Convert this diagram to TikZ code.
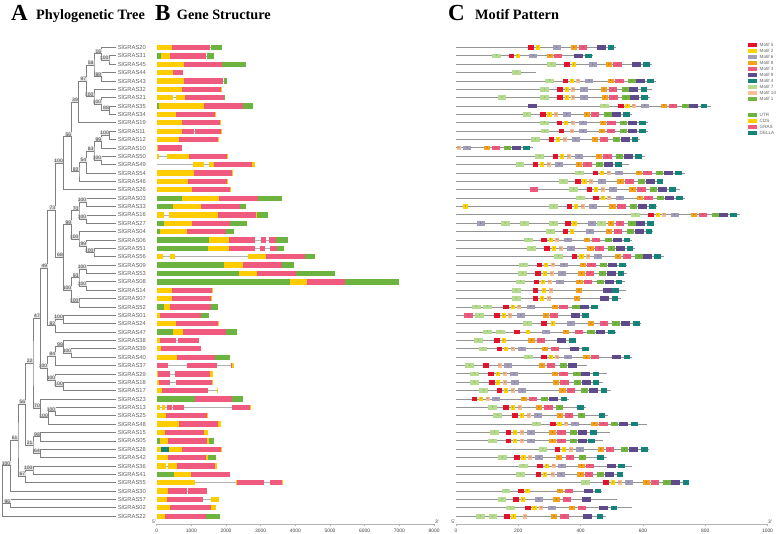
\documentclass[tikz,border=0pt]{standalone}
\usepackage{fontspec}
\setmainfont{Liberation Sans}
\newfontfamily\titlefont{Liberation Serif}
\usetikzlibrary{calc}
\definecolor{gsG}{HTML}{6DB33F}
\definecolor{gsY}{HTML}{FFCC00}
\definecolor{gsP}{HTML}{EF5A7E}
\definecolor{gsT}{HTML}{12857B}
\definecolor{mot5}{HTML}{E8102A}
\definecolor{mot2}{HTML}{FFD200}
\definecolor{mot6}{HTML}{A29EBA}
\definecolor{mot8}{HTML}{F6A11C}
\definecolor{mot3}{HTML}{EE5A7E}
\definecolor{mot9}{HTML}{5E4A8C}
\definecolor{mot4}{HTML}{13857A}
\definecolor{mot7}{HTML}{B5DB8F}
\definecolor{mot10}{HTML}{F8BE94}
\definecolor{mot1}{HTML}{72B63E}
\newcommand\setmw[2]{\expandafter\def\csname mw#1\endcsname{#2}}
\setmw{1}{7.3}\setmw{2}{4.3}\setmw{3}{8.3}\setmw{4}{6.7}\setmw{5}{5.7}
\setmw{6}{8}\setmw{7}{8.7}\setmw{8}{6.3}\setmw{9}{9}\setmw{10}{4}
\tikzset{
 br/.style={draw=black!50, line width=0.75},
 bs/.style={anchor=south east, inner sep=0.3pt, fill=black!12, text=black!75, font=\fontsize{5}{5}\selectfont},
 leaf/.style={anchor=west, inner sep=0pt, text=black!62, font=\fontsize{5.8}{6}\selectfont},
 gline/.style={draw=black!30, line width=0.6},
 mline/.style={draw=black!42, line width=0.9},
 mnum/.style={inner sep=0pt, font=\fontsize{2.4}{2.4}\selectfont, text=black!70},
 legtxt/.style={anchor=west, inner sep=0pt, text=black!60, font=\fontsize{4.6}{5}\selectfont},
 ax/.style={draw=black!30, line width=0.8},
 axlab/.style={inner sep=0pt, text=black!75, font=\fontsize{4.9}{5}\selectfont},
 ttl/.style={anchor=base west, inner sep=0pt, font=\titlefont\bfseries\fontsize{14.3}{15}\selectfont},
 big/.style={anchor=base west, inner sep=0pt, font=\titlefont\bfseries\fontsize{23}{23}\selectfont},
}
\newcommand\tn[5]{%
  \path ($(#3)!0.5!(#4)$) coordinate (#1m);
  \path (#2,0) coordinate (#1x);
  \coordinate (#1) at (#1m -| #1x);
  \draw[br] (#3) -| (#1) |- (#4);
  \node[bs] (#1l) at (#1) {#5};
}
\newcommand\grow[3]{%
  \pgfmathsetmacro\yy{47.5+(#1-1)*8.37}
  \draw[gline] (156.67,\yy) -- ({140+#2/3},\yy);
  \foreach \t/\a/\b in {#3}{
    \fill[gs\t] ({140+\a/3},\yy-2.65) rectangle ({140+\b/3},\yy+2.65);
  }
}
\newcommand\mrow[3]{%
  \pgfmathsetmacro\yy{47.5+(#1-1)*8.37}
  \draw[mline] (456,\yy) -- ({450+#2/3},\yy);
  \foreach \t/\z [count=\i] in {#3}{
    \pgfmathsetmacro\xa{450+\z/3}
    \pgfmathsetmacro\xb{\xa+\csname mw\t\endcsname}
    \fill[mot\t] (\xa,\yy-2.3) rectangle (\xb,\yy+2.3);
    \node[mnum] (mo#1x\i) at ({(\xa+\xb)/2},\yy) {\t};
  }
}
\begin{document}
\begin{tikzpicture}[x=1pt,y=-1pt]
\useasboundingbox (0,0) rectangle (777,534);
% titles
\node[big] (tA) at (11,20.5) {A};
\node[ttl] (tAt) at (36,19.5) {Phylogenetic Tree};
\node[big] (tB) at (155,20.5) {B};
\node[ttl] (tBt) at (176.7,19.5) {Gene Structure};
\node[big] (tC) at (448,20.5) {C};
\node[ttl] (tCt) at (475,19.5) {Motif Pattern};
% leaves
\foreach \nm [count=\i] in {20,31,45,44,43,32,21,35,34,19,11,12,10,50,49,54,46,26,03,33,16,27,04,06,51,56,09,53,08,14,07,52,01,24,47,38,39,40,37,29,18,17,23,13,25,48,15,05,28,42,36,41,55,30,57,02,22}{
  \pgfmathsetmacro\yy{47.5+(\i-1)*8.37}
  \coordinate (L\i) at (115.7,\yy);
  \node[leaf] (N\i) at (117.6,\yy) {SlGRAS\nm};
}
% tree
\tn{na}{109}{L2}{L3}{100}
\tn{nb}{101.7}{L1}{na}{16}
\tn{nc}{101.7}{L4}{L5}{88}
\tn{nd}{94}{nb}{nc}{58}
\tn{ne}{109.3}{L8}{L9}{88}
\tn{nf}{101.7}{L7}{ne}{100}
\tn{ng}{94}{L6}{nf}{100}
\tn{nh}{86.7}{nd}{ng}{97}
\tn{ni}{78.3}{nh}{L10}{39}
\tn{nj}{109.3}{L11}{L12}{100}
\tn{nk}{101.7}{nj}{L13}{99}
\tn{nl}{101.7}{L14}{L15}{100}
\tn{nm}{94}{nk}{nl}{83}
\tn{nn}{86.7}{nm}{L16}{54}
\tn{no}{79}{nn}{L17}{82}
\tn{np}{71.7}{ni}{no}{56}
\tn{nq}{63.3}{np}{L18}{100}
\tn{nr}{86.7}{L19}{L20}{100}
\tn{ns}{86.7}{L21}{L22}{100}
\tn{nt}{79}{nr}{ns}{70}
\tn{nu}{94}{L25}{L26}{100}
\tn{nv}{86.7}{L24}{nu}{99}
\tn{nw}{79}{L23}{nv}{100}
\tn{nx}{71.7}{nt}{nw}{99}
\tn{ny}{86.7}{L27}{L28}{100}
\tn{nz}{86.7}{L29}{L30}{100}
\tn{oa}{79}{ny}{nz}{93}
\tn{ob}{79}{L31}{L32}{100}
\tn{oc}{71.7}{oa}{ob}{100}
\tn{od}{63.3}{nx}{oc}{68}
\tn{oe}{55.7}{nq}{od}{73}
\tn{of}{63.3}{L33}{L34}{100}
\tn{og}{55.7}{of}{L35}{82}
\tn{oh}{47.7}{oe}{og}{49}
\tn{oi}{71.7}{L37}{L38}{100}
\tn{oj}{63.3}{L36}{oi}{99}
\tn{ok}{55.7}{oj}{L39}{84}
\tn{ol}{63.3}{L41}{L42}{100}
\tn{om}{55.7}{L40}{ol}{100}
\tn{on}{47.7}{ok}{om}{100}
\tn{oo}{40.3}{oh}{on}{47}
\tn{op}{55.7}{L44}{L45}{100}
\tn{oq}{48.3}{op}{L46}{100}
\tn{or}{40.3}{L43}{oq}{70}
\tn{os}{33}{oo}{or}{22}
\tn{ot}{40.3}{L47}{L48}{98}
\tn{ou}{40.3}{L49}{L50}{64}
\tn{ov}{33}{ot}{ou}{21}
\tn{ow}{25.7}{os}{ov}{56}
\tn{ox}{33}{L51}{L52}{100}
\tn{oy}{25.7}{ox}{L53}{67}
\tn{oz}{18}{ow}{oy}{61}
\tn{pa}{10.7}{oz}{L54}{100}
\tn{pb}{10.7}{L55}{L56}{96}
\path ($(pa)!0.5!(L57)$) coordinate (rootm);
\path (2.7,0) coordinate (rootx);
\coordinate (root) at (rootm -| rootx);
\draw[br] (pa) -| (root) |- (L57);
\draw[br] (root |- pb) -- (pb);
% gene structures
\grow{1}{246}{Y/50/95,P/95/210,G/212/246}
\grow{2}{221}{G/50/62,Y/62/90,P/90/198,G/200/221}
\grow{3}{317}{Y/50/133,P/133/245,G/245/317}
\grow{4}{130}{Y/50/98,P/98/130}
\grow{5}{262}{Y/50/131,P/131/250,G/251/262}
\grow{6}{245}{Y/50/125,P/125/243,Y/243/245}
\grow{7}{254}{Y/50/99,Y/108/134,P/134/252,G/252/254}
\grow{8}{340}{G/50/56,Y/56/191,P/191/309,G/310/340}
\grow{9}{227}{Y/50/107,P/107/225,Y/225/227}
\grow{10}{243}{Y/50/126,P/126/241,Y/241/243}
\grow{11}{245}{Y/50/126,P/126/163,P/165/243,Y/243/245}
\grow{12}{236}{Y/50/117,P/117/234,Y/234/236}
\grow{13}{127}{P/50/127,Y/50/52}
\grow{14}{264}{Y/50/56,Y/81/146,P/146/262,Y/262/264}
\grow{15}{345}{Y/158/193,Y/207/222,P/222/337,Y/337/345}
\grow{16}{279}{Y/50/161,P/161/277,Y/277/279}
\grow{17}{262}{Y/50/145,P/145/260,Y/260/262}
\grow{18}{272}{Y/50/156,P/156/270,Y/270/272}
\grow{19}{425}{G/50/125,Y/125/237,P/237/353,G/355/425}
\grow{20}{317}{G/50/98,Y/98/183,P/183/300,G/300/317}
\grow{21}{383}{Y/50/72,Y/88/233,P/233/348,Y/348/352,G/352/383}
\grow{22}{320}{G/50/72,Y/72/155,P/155/270,G/270/320}
\grow{23}{282}{G/50/60,Y/60/141,P/141/257,G/257/282}
\grow{24}{443}{G/50/207,Y/207/267,P/267/345,P/363/378,P/387/407,G/408/443}
\grow{25}{433}{G/50/205,Y/205/267,P/267/345,P/360/376,P/390/410,G/410/433}
\grow{26}{526}{Y/50/70,Y/90/105,Y/323/378,P/378/496,G/496/526}
\grow{27}{463}{G/50/252,Y/252/308,P/308/425,G/425/463}
\grow{28}{586}{G/50/298,Y/298/352,P/352/468,G/468/586}
\grow{29}{778}{G/50/450,Y/450/500,P/500/616,G/616/778}
\grow{30}{220}{Y/50/97,P/97/217,Y/217/220}
\grow{31}{217}{Y/50/97,P/97/214,Y/214/217}
\grow{32}{234}{G/50/72,Y/72/90,P/90/214,G/214/234}
\grow{33}{207}{Y/50/61,P/61/184,G/184/207}
\grow{34}{237}{Y/50/108,P/108/235,Y/235/237}
\grow{35}{290}{G/50/99,Y/99/129,P/129/259,G/259/290}
\grow{36}{178}{Y/50/60,P/60/107,P/114/178}
\grow{37}{183}{Y/50/64,P/64/183}
\grow{38}{271}{Y/50/110,P/110/226,G/226/271}
\grow{39}{281}{P/50/85,P/141/231,P/273/276,Y/276/281}
\grow{40}{218}{Y/50/55,P/55/90,P/106/211,Y/211/218}
\grow{41}{217}{Y/50/56,P/56/90,P/109/215,Y/215/217}
\grow{42}{235}{Y/50/65,P/65/204,Y/232/235}
\grow{43}{309}{G/50/165,P/165/277,G/277/309}
\grow{44}{333}{Y/50/60,Y/65/76,P/80/96,P/100/133,P/275/330,Y/330/333}
\grow{45}{204}{Y/50/78,P/78/202,Y/202/204}
\grow{46}{242}{Y/50/117,P/117/234,Y/234/242}
\grow{47}{204}{Y/50/75,P/75/191,Y/191/204}
\grow{48}{223}{G/50/60,Y/60/84,P/84/201,Y/201/208,G/208/223}
\grow{49}{245}{Y/50/62,T/62/87,Y/87/125,P/125/243,Y/243/245}
\grow{50}{227}{Y/50/83,P/83/199,Y/199/203,G/203/227}
\grow{51}{232}{Y/50/77,Y/83/110,P/110/226,Y/226/232}
\grow{52}{270}{G/50/102,Y/102/153,P/153/270}
\grow{53}{429}{Y/50/165,Y/289/291,P/291/371,P/389/427,Y/427/429}
\grow{54}{200}{Y/50/84,P/84/142,P/144/200}
\grow{55}{237}{Y/50/80,P/80/189,Y/214/237}
\grow{56}{228}{Y/50/89,P/89/214,Y/214/228}
\grow{57}{240}{Y/50/74,P/74/199,G/199/240}
% gene axis
\draw[ax] (156.67,524) coordinate (ga0) -- (434,524) coordinate (ga1);
\foreach \v in {0,...,8}{
  \pgfmathsetmacro\xx{156.67+\v*34.67}
  \pgfmathtruncatemacro\lab{\v*1000}
  \draw[ax] (\xx,524) -- (\xx,525.8);
  \node[axlab] (gt\v) at (\xx,530.7) {\lab};
}
\node[axlab] (g5) at (154,521.8) {5'};
\node[axlab] (g3) at (437,521.8) {3'};
% motifs
\mrow{1}{497}{5/235,2/257,6/308,8/363,3/387,9/440,4/473}
\mrow{2}{428}{7/127,5/176,2/197,6/238,8/290,3/312,9/371,4/406}
\mrow{3}{605}{7/292,5/343,2/365,6/416,8/468,3/490,9/547,4/580}
\mrow{4}{258}{7/187}
\mrow{5}{618}{7/285,5/338,2/360,10/378,6/406,8/473,3/496,1/535,9/558,4/592}
\mrow{6}{605}{7/270,5/322,2/344,10/364,6/391,8/453,3/476,1/515,9/538,4/572}
\mrow{7}{600}{7/143,7/271,5/322,2/344,10/364,6/391,8/455,3/478,1/517,9/540,4/573}
\mrow{8}{783}{9/235,7/450,5/504,2/526,10/545,6/572,8/633,3/656,1/695,9/718,4/752}
\mrow{9}{547}{7/218,5/270,2/292,10/312,6/338,8/401,3/423,1/463,9/486,4/520}
\mrow{10}{593}{7/270,5/320,2/342,10/362,6/388,8/449,3/472,1/510,9/535,4/568}
\mrow{11}{593}{7/272,5/326,10/360,6/388,8/447,3/471,1/510,9/534,4/567}
\mrow{12}{570}{7/243,5/296,2/318,10/338,6/365,8/426,3/450,1/488,9/512,4/545}
\mrow{13}{250}{10/20,6/40,8/102,3/125,1/162,9/187,4/220}
\mrow{14}{585}{7/256,5/308,2/330,10/350,6/376,8/437,3/460,1/498,9/522,4/556}
\mrow{15}{537}{7/197,5/248,2/270,10/290,6/316,8/377,3/400,1/438,9/462,4/496}
\mrow{16}{705}{7/376,5/428,2/450,10/470,6/496,8/557,3/580,1/618,9/642,4/675}
\mrow{17}{640}{7/327,5/375,2/397,10/417,6/443,8/502,3/526,1/564,9/588,4/620}
\mrow{18}{690}{3/240,7/358,5/410,2/432,10/452,6/478,8/538,3/562,1/600,9/624,4/658}
\mrow{19}{705}{7/378,5/430,2/452,10/472,6/498,8/560,3/583,1/621,9/645,4/678}
\mrow{20}{620}{2/40,7/298,5/350,2/372,10/392,6/418,8/478,3/502,1/540,9/564,4/598}
\mrow{21}{870}{7/543,5/595,2/617,10/637,6/662,8/723,3/746,1/785,9/808,4/841}
\mrow{22}{612}{6/80,7/153,7/210,7/297,5/345,2/367,6/414,7/441,8/473,3/497,1/535,9/558,4/592}
\mrow{23}{610}{7/288,5/338,2/360,6/408,8/468,3/491,1/530,9/554,4/587}
\mrow{24}{545}{7/222,5/273,2/296,10/316,6/342,8/402,3/426,1/465,9/488,4/521}
\mrow{25}{555}{7/232,5/283,2/306,10/326,6/352,8/412,3/436,1/474,9/497,4/530}
\mrow{26}{643}{7/313,5/365,2/388,10/408,6/433,8/495,3/518,1/556,9/580,4/613}
\mrow{27}{530}{7/208,5/260,2/282,10/303,6/330,8/390,3/412,1/450,9/474,4/507}
\mrow{28}{530}{7/205,5/256,2/279,10/299,6/325,8/385,3/408,1/446,9/470,4/503}
\mrow{29}{525}{7/198,5/251,2/273,10/293,6/318,8/379,3/402,1/440,9/464,4/497}
\mrow{30}{528}{7/186,5/248,2/276,10/298,8/378,9/460,4/487}
\mrow{31}{513}{7/186,5/248,2/270,10/292,8/372,9/450,4/485}
\mrow{32}{445}{7/66,7/100,5/160,2/182,10/202,6/230,8/306,3/328,1/367,9/390,4/423}
\mrow{33}{418}{3/43,7/76,5/133,2/155,10/175,6/201,8/278,3/300,9/362,4/396}
\mrow{34}{572}{7/220,5/274,2/302,6/351,8/413,3/450,1/487,9/512,4/550}
\mrow{35}{497}{7/99,7/138,5/192,2/228,6/277,8/338,3/375,1/412,9/437,4/474}
\mrow{36}{378}{7/72,5/132,2/155,8/235,3/261,9/321,4/357}
\mrow{37}{418}{7/86,5/140,2/162,10/182,6/205,8/275,3/302,9/361,4/396}
\mrow{38}{545}{7/222,5/273,2/296,10/316,6/342,8/400,3/422,9/486,4/521}
\mrow{39}{412}{7/45,5/100,10/143,6/163,8/267,3/290,1/330,9/353}
\mrow{40}{472}{7/60,5/115,2/137,10/158,6/181,8/306,3/328,1/370,9/393,4/428}
\mrow{41}{460}{7/60,5/117,2/138,10/160,6/182,8/309,3/331,1/372,9/395,4/428}
\mrow{42}{482}{7/88,5/140,2/162,10/182,6/205,8/328,3/351,1/392,9/416,4/452}
\mrow{43}{356}{5/65,2/87,10/107,6/127,8/213,3/236,1/273,9/297,4/332}
\mrow{44}{408}{7/115,5/160,2/182,10/203,8/257,3/283,1/318,4/382}
\mrow{45}{475}{7/130,5/187,2/209,10/230,6/251,8/321,3/345,1/384,4/446}
\mrow{46}{590}{7/246,5/300,2/322,10/343,6/363,8/424,3/448,1/483,9/507,4/543}
\mrow{47}{480}{7/120,5/167,2/189,10/210,6/232,8/298,3/322,1/360,9/384,4/420}
\mrow{48}{460}{7/115,5/167,2/189,10/210,6/232,8/298,3/322,1/360,9/384,4/415}
\mrow{49}{597}{7/266,5/314,2/336,10/357,6/379,8/443,3/467,1/513,9/538,4/573}
\mrow{50}{472}{7/145,5/193,2/214,10/234,6/256,8/317,3/347,1/386,4/442}
\mrow{51}{545}{7/207,5/262,2/284,10/305,6/323,8/385,3/407,9/470,4/505}
\mrow{52}{520}{7/198,5/257,2/278,10/302,6/322,8/382,3/405,1/440,9/466,4/500}
\mrow{53}{718}{7/394,5/460,2/483,10/503,6/524,8/580,3/603,1/640,9/664,4/698}
\mrow{54}{457}{7/155,5/204,2/226,8/320,3/345,9/402,4/434}
\mrow{55}{500}{7/143,5/190,2/212,6/254,8/310,3/338,9/396}
\mrow{56}{547}{7/168,5/226,2/247,10/268,6/294,8/356,3/384,9/448,4/482}
\mrow{57}{468}{7/78,7/116,5/162,2/184,10/220,8/303,3/331,9/400,4/440}
% motif axis
\draw[ax] (456,524) coordinate (ma0) -- (767.5,524) coordinate (ma1);
\foreach \v in {0,...,5}{
  \pgfmathsetmacro\xx{456+\v*62.3}
  \pgfmathtruncatemacro\lab{\v*200}
  \draw[ax] (\xx,524) -- (\xx,525.8);
  \node[axlab] (mt\v) at (\xx,530.7) {\lab};
}
\node[axlab] (m5p) at (453.3,521.8) {5'};
\node[axlab] (m3p) at (770,521.8) {3'};
% legends
\foreach \k/\lab [count=\j] in {5/Motif 5,2/Motif 2,6/Motif 6,8/Motif 8,3/Motif 3,9/Motif 9,4/Motif 4,7/Motif 7,10/Motif 10,1/Motif 1}{
  \pgfmathsetmacro\yy{45.3+(\j-1)*6.0}
  \fill[mot\k] (747.7,\yy-2.1) rectangle (756.7,\yy+2.1);
  \node[legtxt] (lm\j) at (759.5,\yy) {\lab};
}
\foreach \k/\lab [count=\j] in {G/UTR,Y/CDS,P/GRAS,T/DELLA}{
  \pgfmathsetmacro\yy{115+(\j-1)*5.9}
  \fill[gs\k] (747.7,\yy-2.1) rectangle (756.7,\yy+2.1);
  \node[legtxt] (lg\j) at (759.5,\yy) {\lab};
}
\end{tikzpicture}
\end{document}
